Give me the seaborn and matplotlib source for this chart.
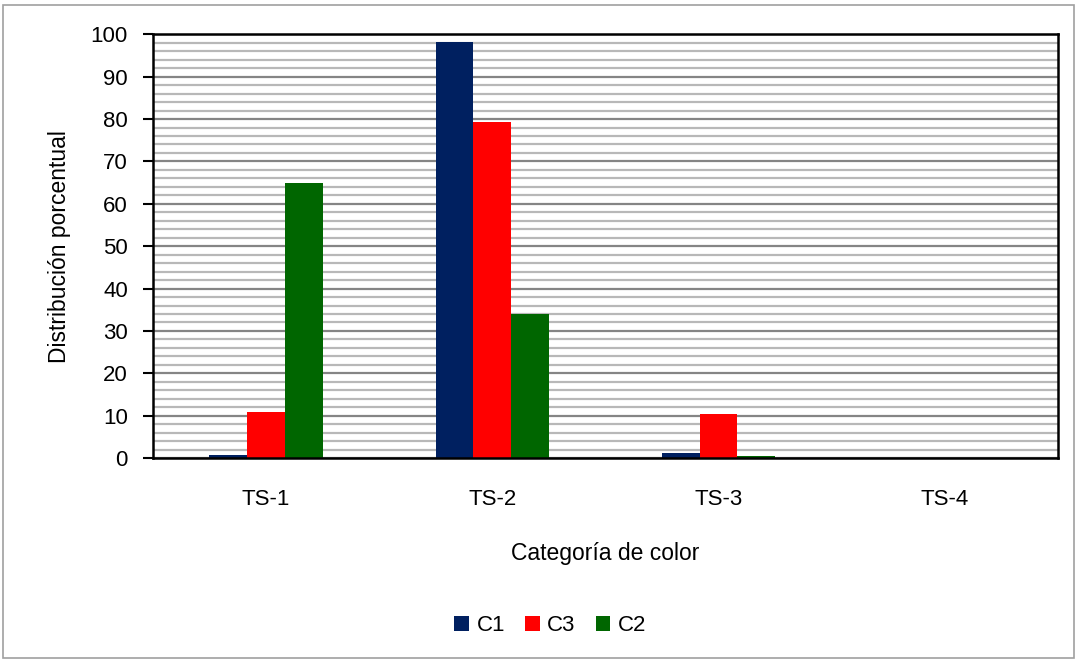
import matplotlib
matplotlib.use("Agg")
import matplotlib.pyplot as plt
from matplotlib.patches import Rectangle
from matplotlib.ticker import MultipleLocator
import seaborn as sns
import pandas as pd

categories = ["TS-1", "TS-2", "TS-3", "TS-4"]
series_names = ["C1", "C3", "C2"]
c1_values = [0.6, 98.3, 1.1, 0.0]
c3_values = [10.8, 79.2, 10.4, 0.0]
c2_values = [64.9, 34.0, 0.5, 0.0]
colors = ["#002060", "#FF0000", "#006600"]

records = []
for name, vals in zip(series_names, [c1_values, c3_values, c2_values]):
    for cat, v in zip(categories, vals):
        records.append({"Categoría": cat, "Serie": name, "Valor": v})
df = pd.DataFrame(records)

sns.set_theme(style="white")
plt.rcParams["font.family"] = ["Liberation Sans", "DejaVu Sans"]
plt.rcParams["text.color"] = "black"

fig = plt.figure(figsize=(10.77, 6.6), dpi=100)
ax = fig.add_axes([0.142, 0.306, 0.840, 0.642])

sns.barplot(data=df, x="Categoría", y="Valor", hue="Serie",
            hue_order=series_names, order=categories,
            palette=colors, width=0.5, saturation=1, gap=0,
            ax=ax, legend=True)

for p in ax.patches:
    p.set_edgecolor("none")

ax.set_ylim(0, 100)
ax.set_xlim(-0.5, 3.5)
ax.yaxis.set_major_locator(MultipleLocator(10))
ax.yaxis.set_minor_locator(MultipleLocator(2))
ax.grid(which="minor", axis="y", color="#b8b8b8", linewidth=1.6)
ax.grid(which="major", axis="y", color="#858585", linewidth=1.6)
ax.set_axisbelow(True)

for s in ax.spines.values():
    s.set_color("black")
    s.set_linewidth(1.8)

ax.tick_params(axis="y", which="major", direction="out", length=7, width=1.5,
               color="black", labelsize=16, pad=11, left=True,
               labelcolor="black")
ax.tick_params(axis="y", which="minor", left=False)
ax.tick_params(axis="x", length=0, labelsize=16, pad=22, labelcolor="black")

ax.set_xlabel("Categoría de color", fontsize=16.5, labelpad=23, color="black")
ax.set_ylabel("Distribución porcentual", fontsize=16.5, labelpad=14, color="black")

handles, labels = ax.get_legend_handles_labels()
ax.legend_.remove()
fig.legend(handles, labels, loc="center", bbox_to_anchor=(0.511, 0.052),
           ncol=3, frameon=False, fontsize=16, handlelength=0.65,
           handleheight=0.65, handletextpad=0.35, columnspacing=0.9)

fig.add_artist(Rectangle((0.003, 0.003), 0.994, 0.99, transform=fig.transFigure,
                         fill=False, edgecolor="#a0a0a0", linewidth=1.2))

fig.savefig("out.png", dpi=100)
